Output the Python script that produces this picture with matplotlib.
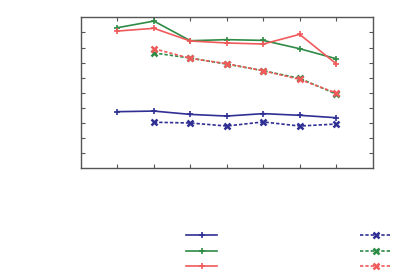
import matplotlib
matplotlib.use("Agg")
import matplotlib.pyplot as plt

# x positions (categories 1..7) and series values
x_all = [1, 2, 3, 4, 5, 6, 7]
x_dash = [2, 3, 4, 5, 6, 7]

blue_solid = [3.75, 3.79, 3.57, 3.46, 3.62, 3.51, 3.35]
green_solid = [9.31, 9.75, 8.45, 8.52, 8.47, 7.92, 7.26]
red_solid = [9.09, 9.27, 8.43, 8.30, 8.23, 8.87, 6.93]

blue_dash = [3.05, 3.00, 2.80, 3.07, 2.80, 2.93]
green_dash = [7.64, 7.30, 6.90, 6.46, 5.96, 4.92]
red_dash = [7.92, 7.28, 6.93, 6.46, 5.89, 4.99]

BLUE = "#2f2f94"
GREEN = "#2e8b46"
RED = "#f05a5a"

fig = plt.figure(figsize=(4.0, 2.79), dpi=100)
ax = fig.add_axes([81 / 400, 1 - 168.3 / 279, 291.5 / 400, 151 / 279])

lw = 1.2
solid = []
for ys, c in [(blue_solid, BLUE), (green_solid, GREEN), (red_solid, RED)]:
    ln, = ax.plot(x_all, ys, color=c, lw=lw, marker="+", ms=5, mew=1.2)
    solid.append(ln)
dashed = []
for ys, c in [(blue_dash, BLUE), (green_dash, GREEN), (red_dash, RED)]:
    ln, = ax.plot(x_dash, ys, color=c, lw=lw, ls=(0, (2, 1.2)), marker="x", ms=4, mew=1.8)
    dashed.append(ln)

ax.set_xlim(0, 8)
ax.set_ylim(0, 10)
ax.set_xticks(x_all)
ax.set_yticks(range(1, 10))
ax.tick_params(direction="in", length=3, width=0.8, color="#555555",
               top=True, right=True, labelbottom=False, labelleft=False)
for s in ax.spines.values():
    s.set_color("#555555")
    s.set_linewidth(1.0)

leg_kw = dict(frameon=False, loc="center", handlelength=2.3, handletextpad=0,
              labelspacing=0.12, fontsize=10, borderpad=0)
leg1 = fig.legend(solid, ["", "", ""], bbox_to_anchor=(201.5 / 400, 1 - 251.5 / 279), **leg_kw)
leg2 = fig.legend(dashed, ["", "", ""], bbox_to_anchor=(375.5 / 400, 1 - 251.5 / 279), **leg_kw)

fig.savefig("out.png", dpi=100)
